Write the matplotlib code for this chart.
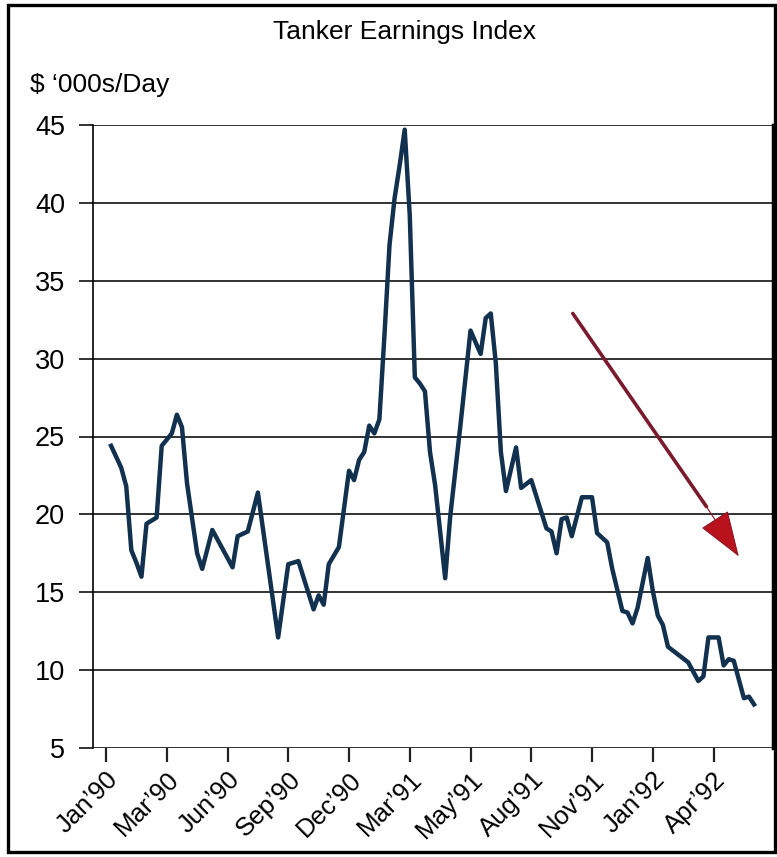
import matplotlib
matplotlib.use('Agg')
import matplotlib.pyplot as plt
from matplotlib.patches import Rectangle

plt.rcParams['font.family'] = ['Liberation Sans', 'DejaVu Sans']

# weekly index (0 = first week of Jan 1990) and earnings, $'000s/day
weeks = [1, 3, 4, 5, 6, 7, 8, 10, 11, 13, 14, 15, 16, 18, 19, 21, 25, 26, 28, 30,
         34, 36, 38, 41, 42, 43, 44, 46, 48, 49, 50, 51, 52, 53, 54, 55, 56, 57, 58, 59,
         60, 61, 62, 63, 64, 65, 67, 68, 70, 72, 74, 75, 76, 77, 78, 79, 81, 82, 84, 87,
         88, 89, 90, 91, 92, 94, 96, 97, 98, 99, 100, 102, 103, 104, 105, 107, 108, 109, 110, 111,
         113, 115, 117, 118, 119, 121, 122, 123, 124, 126, 127, 128]
earnings = [24.4, 23.0, 21.8, 17.7, 16.9, 16.0, 19.4, 19.8, 24.4, 25.2, 26.4, 25.6, 22.0, 17.5, 16.5, 19.0, 16.6, 18.6, 18.9, 21.4,
            12.1, 16.8, 17.0, 13.9, 14.8, 14.2, 16.8, 17.9, 22.8, 22.2, 23.5, 24.0, 25.7, 25.2, 26.1, 31.5, 37.3, 40.3, 42.4, 44.7,
            39.2, 28.8, 28.4, 27.9, 24.0, 21.9, 15.9, 19.9, 25.7, 31.8, 30.3, 32.6, 32.9, 29.7, 24.0, 21.5, 24.3, 21.7, 22.2, 19.1,
            18.9, 17.5, 19.7, 19.8, 18.6, 21.1, 21.1, 18.8, 18.5, 18.2, 16.5, 13.8, 13.7, 13.0, 14.0, 17.2, 15.1, 13.5, 12.9, 11.5,
            11.0, 10.5, 9.3, 9.6, 12.1, 12.1, 10.3, 10.7, 10.6, 8.2, 8.3, 7.8]

tick_weeks = [0, 12, 24, 36, 48, 60, 72, 84, 96, 108, 120]
tick_labels = ["Jan\u201990", "Mar\u201990", "Jun\u201990", "Sep\u201990", "Dec\u201990", "Mar\u201991",
               "May\u201991", "Aug\u201991", "Nov\u201991", "Jan\u201992", "Apr\u201992"]
y_ticks = [5, 10, 15, 20, 25, 30, 35, 40, 45]

# trend arrow (week, value): shaft start, head base, tip
arrow_start = (92.2, 32.9)
arrow_base = (118.6, 20.5)
arrow_end = (125.0, 17.3)

fig = plt.figure(figsize=(7.77, 8.57), dpi=100)
ax = fig.add_axes([93 / 777, 1 - 748 / 857, 680 / 777, 623 / 857])

ax.plot(weeks, earnings, color='#12314f', lw=3.2, solid_joinstyle='round', zorder=3)

ax.set_xlim(-2.57, 131.75)
ax.set_ylim(5, 45)
ax.set_yticks(y_ticks)
ax.set_yticklabels([str(v) for v in y_ticks], fontsize=19.5)
ax.set_xticks(tick_weeks)
ax.set_xticklabels(tick_labels, rotation=45, ha='right', rotation_mode='anchor', fontsize=18.5)
ax.tick_params(axis='y', direction='out', length=10, width=1.3, pad=10, color='#222222')
ax.tick_params(axis='x', direction='out', length=10, width=1.6, pad=4, color='#222222')
ax.yaxis.grid(True, color='#222222', lw=1.3)
ax.set_axisbelow(True)

for side in ['top', 'bottom']:
    ax.spines[side].set_visible(False)
ax.spines['left'].set_linewidth(1.2)
ax.spines['right'].set_linewidth(2.5)

# arrow: maroon shaft, red head
ax.annotate('', xy=arrow_base, xytext=arrow_start,
            arrowprops=dict(arrowstyle='-', color='#7a1a2c', lw=2.6, shrinkA=0, shrinkB=0),
            zorder=4)
ax.annotate('', xy=arrow_end, xytext=arrow_base,
            arrowprops=dict(arrowstyle='-|>,head_length=3.0,head_width=1.05',
                            fc='#b8121d', ec='#8e1422', lw=0.8, shrinkA=0, shrinkB=0),
            zorder=4)

fig.text(405 / 777, 1 - 32 / 857, 'Tanker Earnings Index', ha='center', va='center', fontsize=19)
fig.text(30 / 777, 1 - 85 / 857, '$ \u2018000s/Day', ha='left', va='center', fontsize=19)

# outer frame
fig.patches.append(Rectangle((8 / 777, 5 / 857), 767 / 777, 847 / 857, transform=fig.transFigure,
                             fill=False, ec='black', lw=2.4))

fig.savefig('out.png', dpi=100)
